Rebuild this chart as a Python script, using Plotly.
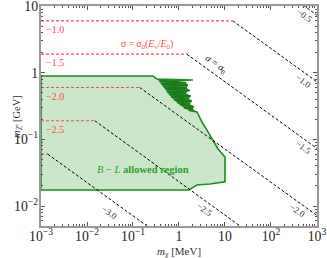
import math
import plotly.graph_objects as go

# ---- data ----
levels = ["\u22120.5", "\u22121.0", "\u22121.5", "\u22122.0", "\u22122.5", "\u22123.0"]
plateau_mZ = [19.0, 6.0, 1.9, 0.60, 0.19, 0.060]          # GeV, horizontal (sigma = sigma0 E/E0) part
kink_mchi = [148.0, 14.8, 1.48, 0.14, 0.0148, 0.0014]      # MeV, where the curve bends
end_mZ = [7.3, 0.73, 0.073, 0.0072, 0.00073, 0.000072]     # GeV, value at m_chi = 1e3 MeV
x_min, x_max = 1e-3, 1e3

region_mchi = [0.001, 0.001, 0.272,
               0.3325, 2.015, 0.3675, 1.420, 0.4063, 1.569, 0.4490, 1.492, 0.4963, 1.735,
               0.5484, 1.420, 0.6062, 1.823, 0.6700, 1.650, 0.7786, 1.917, 0.9048, 1.735,
               1.051, 2.119, 1.284, 2.015, 1.650, 2.462,
               2.86, 3.16, 4.06, 5.21, 7.05, 10.0, 10.0, 4.72, 2.46, 1.92, 1.65, 0.001]
region_mZ = [0.0174, 0.893, 0.893,
             0.804, 0.777, 0.751, 0.713, 0.677, 0.654, 0.621, 0.590, 0.570, 0.541,
             0.514, 0.496, 0.471, 0.447, 0.432, 0.410, 0.390, 0.376, 0.357, 0.339,
             0.328, 0.311, 0.296, 0.286, 0.271, 0.258,
             0.209, 0.182, 0.138, 0.105, 0.0718, 0.0545, 0.0230, 0.0214, 0.0207, 0.0187, 0.0174, 0.0174]

# dense (unresolved) part of the boundary: left edge going down, right edge going up
jagged_mchi = [0.3325, 0.3675, 0.4063, 0.4490, 0.4963, 0.5484, 0.6062, 0.6700, 0.7786, 0.9048,
               1.051, 1.284, 1.650, 2.462, 2.015, 2.119, 1.735, 1.917, 1.650, 1.823, 1.420, 1.735,
               1.492, 1.569, 1.420, 0.3325]
jagged_mZ = [0.804, 0.751, 0.677, 0.621, 0.570, 0.514, 0.471, 0.432, 0.390, 0.357,
             0.328, 0.296, 0.271, 0.258, 0.286, 0.311, 0.339, 0.376, 0.410, 0.447, 0.496, 0.541,
             0.590, 0.654, 0.713, 0.804]

red_label_levels = [1, 2, 3, 4]
# label anchor positions (text placement)
black_label_pos = [(548, 7.08), (497, 0.751), (497, 0.0769), (386, 0.00845), (3.67, 0.00875), (0.0316, 0.00789)]

RED = "#ff4a4a"
GREEN_LINE = "#1e8c1e"
GREEN_FILL = "rgba(44,160,44,0.25)"
SERIF = "Liberation Serif, DejaVu Serif, serif"

fig = go.Figure()

fig.add_trace(go.Scatter(x=region_mchi, y=region_mZ, mode="lines", fill="toself",
                         fillcolor=GREEN_FILL, line=dict(color=GREEN_LINE, width=1.6),
                         hoverinfo="skip", showlegend=False))
fig.add_trace(go.Scatter(x=jagged_mchi, y=jagged_mZ, mode="none", fill="toself",
                         fillcolor="rgba(20,120,20,0.8)", hoverinfo="skip", showlegend=False))

for i in range(len(levels)):
    fig.add_trace(go.Scatter(x=[x_min, kink_mchi[i]], y=[plateau_mZ[i], plateau_mZ[i]],
                             mode="lines", line=dict(color=RED, width=1.1, dash="3px,2px"),
                             showlegend=False, hoverinfo="skip"))
    fig.add_trace(go.Scatter(x=[kink_mchi[i], x_max], y=[plateau_mZ[i], end_mZ[i]],
                             mode="lines", line=dict(color="black", width=1.0, dash="3px,2px"),
                             showlegend=False, hoverinfo="skip"))

ann = []
for i in red_label_levels:
    ann.append(dict(x=-3, y=math.log10(plateau_mZ[i]), xref="x", yref="y",
                    text=levels[i], showarrow=False, xanchor="left", yanchor="top",
                    xshift=3, yshift=-1, font=dict(color=RED, size=10, family=SERIF)))
for i, (px, py) in enumerate(black_label_pos):
    ann.append(dict(x=math.log10(px), y=math.log10(py), xref="x", yref="y", text=levels[i],
                    showarrow=False, textangle=35.6, font=dict(color="#333", size=9, family=SERIF)))

ann.append(dict(x=math.log10(0.2), y=math.log10(plateau_mZ[2]), xref="x", yref="y",
                text="<i>\u03c3</i> = <i>\u03c3</i><sub>0</sub>(<i>E</i><sub>\u03bd</sub>/<i>E</i><sub>0</sub>)",
                showarrow=False, yanchor="bottom", yshift=1, font=dict(color=RED, size=10, family=SERIF)))
ann.append(dict(x=math.log10(6.4), y=math.log10(1.35), xref="x", yref="y",
                text="<i>\u03c3</i> = <i>\u03c3</i><sub>0</sub>", showarrow=False, textangle=35.6,
                font=dict(color="black", size=10, family=SERIF)))
ann.append(dict(x=math.log10(0.165), y=math.log10(0.0348), xref="x", yref="y",
                text="<i>B</i> \u2212 <i>L</i> <b>allowed region</b>", showarrow=False,
                font=dict(color="#2ca02c", size=10.5, family=SERIF)))
ann.append(dict(x=0.5, y=-0.12, xref="paper", yref="paper", yanchor="middle",
                text="<i>m</i><sub>\u03c7</sub> [MeV]", showarrow=False,
                font=dict(family=SERIF, size=11, color="#333")))
ann.append(dict(x=-0.118, y=0.5, xref="paper", yref="paper", textangle=-90,
                text="<i>m</i><sub><i>Z'</i></sub> [GeV]", showarrow=False,
                font=dict(family=SERIF, size=10.5, color="#333")))

axis_common = dict(type="log", showgrid=False, zeroline=False, showline=True, linecolor="#999",
                   linewidth=1.5, mirror="allticks", ticks="inside", ticklen=4, tickcolor="#555",
                   tickwidth=0.8, dtick=1, exponentformat="power", automargin=False,
                   ticklabeloverflow="allow",
                   tickfont=dict(family=SERIF, size=11, color="#222"),
                   minor=dict(ticks="inside", ticklen=2, tickcolor="#555", tickwidth=0.6, showgrid=False))

fig.update_layout(
    width=327, height=258, margin=dict(l=41, r=10, t=6, b=32),
    paper_bgcolor="white", plot_bgcolor="white",
    xaxis=dict(range=[-3, 3.0005], ticklabelstandoff=-3, **axis_common),
    yaxis=dict(range=[-2.3, 1.001], ticklabelstandoff=-1, **axis_common),
    annotations=ann,
)

fig.write_html("out.html", config={"displayModeBar": False},
               post_script="document.body.style.margin='0';document.body.style.padding='0';")
